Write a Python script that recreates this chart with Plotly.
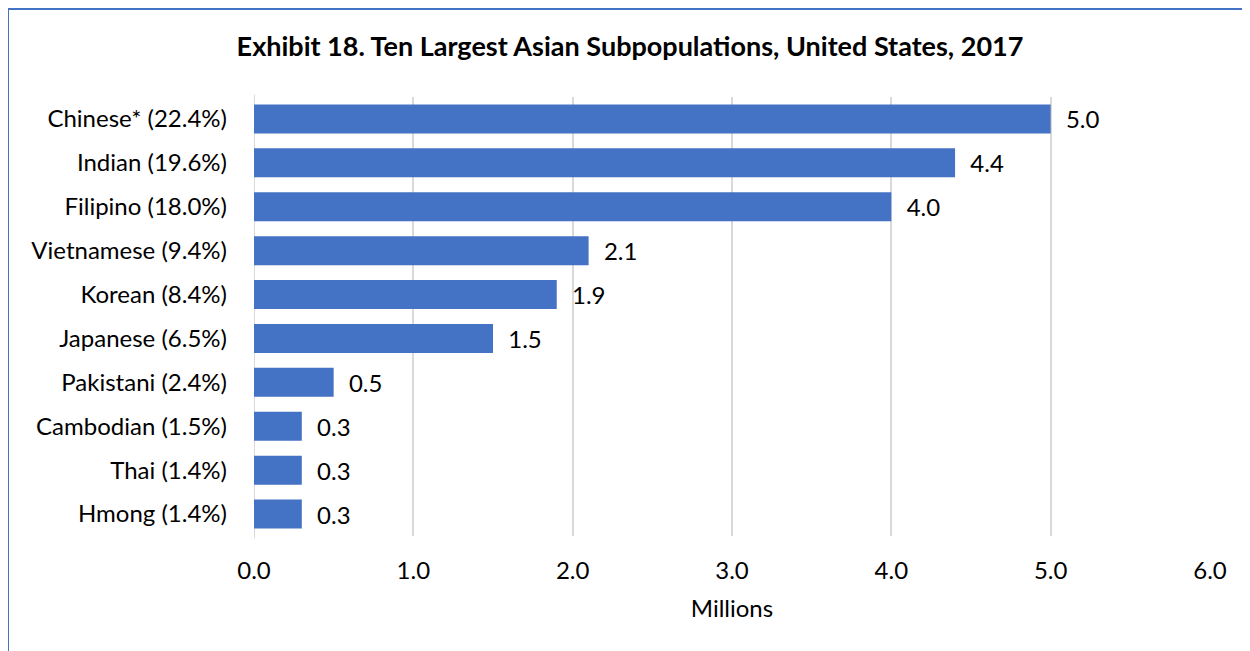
import plotly.graph_objects as go

categories = ["Chinese* (22.4%)", "Indian (19.6%)", "Filipino (18.0%)", "Vietnamese (9.4%)",
              "Korean (8.4%)", "Japanese (6.5%)", "Pakistani (2.4%)", "Cambodian (1.5%)",
              "Thai (1.4%)", "Hmong (1.4%)"]
values = [5.0, 4.4, 4.0, 2.1, 1.9, 1.5, 0.5, 0.3, 0.3, 0.3]
x_ticks = [0, 1, 2, 3, 4, 5, 6]
x_ticklabels = ["0.0", "1.0", "2.0", "3.0", "4.0", "5.0", "6.0"]

FONT = "Lato"
BLUE = "#4472C4"

W, H = 1242, 643
L, R, T, B = 246, 40, 89, 115
PW, PH = W - L - R, H - T - B

fig = go.Figure(go.Bar(
    x=values, y=categories, orientation="h",
    marker=dict(color=BLUE, line=dict(width=0)),
    texttemplate="  %{x:.1f}", textposition="outside", cliponaxis=False,
    textfont=dict(family=FONT, size=24, color="#000000"),
    width=0.66,
))

fig.update_layout(
    width=W, height=H,
    margin=dict(l=L, r=R, t=T, b=B, autoexpand=False),
    paper_bgcolor="white", plot_bgcolor="white",
    font=dict(family=FONT, size=24, color="#000000"),
    showlegend=False,
    title=dict(text="<b>Exhibit 18. Ten Largest Asian Subpopulations, United States, 2017</b>",
               x=(630 - 8) / W, xanchor="center", y=1 - 39 / H, yanchor="middle",
               font=dict(family=FONT, size=27, color="#000000")),
    xaxis=dict(range=[0, 6], tickvals=x_ticks, ticktext=x_ticklabels,
               showgrid=True, gridcolor="#d9d9d9", gridwidth=2, zeroline=False,
               showline=False, ticks="", ticklabelstandoff=18,
               title=dict(text="Millions", standoff=17,
                          font=dict(family=FONT, size=24, color="#000000"))),
    yaxis=dict(autorange="reversed", showgrid=False, zeroline=False,
               showline=False, ticks="", ticklabelstandoff=26),
    shapes=[
        dict(type="line", xref="x", yref="paper", x0=0, x1=0, y0=-0.005, y1=1.005,
             line=dict(color="#d9d9d9", width=2), layer="below"),
        dict(type="rect", xref="paper", yref="paper",
             x0=(0 - L) / PW, x1=(1260 - L) / PW,
             y0=(T + PH - 700) / PH, y1=(T + PH - 1) / PH,
             line=dict(color=BLUE, width=2), fillcolor="rgba(0,0,0,0)", layer="above"),
    ],
)

fig.write_html("out.html")
